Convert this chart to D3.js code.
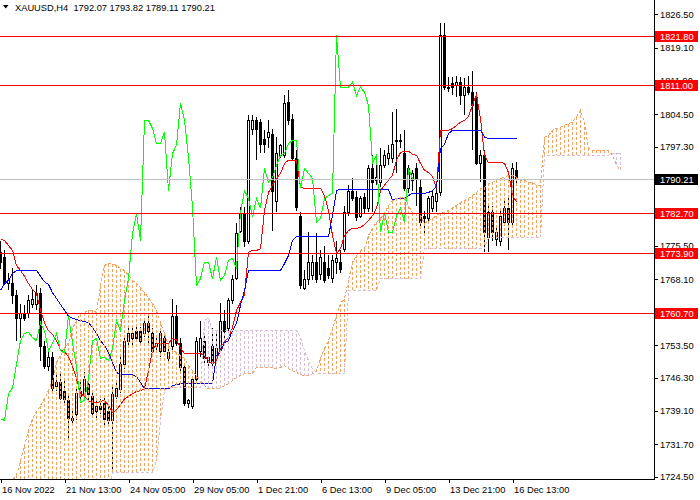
<!DOCTYPE html>
<html>
<head>
<meta charset="utf-8">
<script src="https://cdn.jsdelivr.net/npm/d3@7"></script>
<style>
  body { margin: 0; background: #fff; }
  svg { display: block; font-family: "Liberation Sans", Arial, sans-serif; }
</style>
</head>
<body>
<svg id="chart" width="700" height="500"></svg>
<script>
const symbol = "XAUUSD,H4";

// H4 candles, left to right (last one is the live bar)
const opens = [
  1774.0, 1772.9, 1767.3, 1767.3, 1764.5, 1759.6, 1760.7, 1760.5, 1762.7, 1762.7,
  1765.1, 1753.4, 1749.0, 1750.8, 1744.6, 1745.3, 1743.5, 1741.4, 1736.9, 1738.4,
  1742.4, 1742.8, 1745.0, 1742.4, 1739.1, 1740.2, 1740.8, 1739.1, 1737.1, 1742.4,
  1743.9, 1749.4, 1754.5, 1755.0, 1756.7, 1756.7, 1756.1, 1758.5, 1756.1, 1753.4,
  1752.3, 1755.0, 1750.6, 1753.4, 1760.0, 1754.1, 1748.6, 1740.8, 1740.2, 1746.1,
  1752.3, 1754.5, 1749.7, 1753.4, 1750.6, 1753.0, 1758.9, 1757.2, 1763.4, 1768.4,
  1778.8, 1782.6, 1776.6, 1801.3, 1803.1, 1802.7, 1799.1, 1799.4, 1800.2, 1785.4,
  1795.4, 1795.4, 1807.1, 1803.5, 1794.9, 1782.1, 1766.2, 1768.2, 1768.9, 1771.8,
  1769.3, 1771.8, 1770.6, 1768.4, 1771.8, 1771.8, 1774.8, 1782.8, 1787.6, 1786.1,
  1782.1, 1786.1, 1783.7, 1792.5, 1789.9, 1789.4, 1793.2, 1794.7, 1794.7, 1798.5,
  1798.5, 1796.0, 1788.1, 1789.9, 1792.5, 1788.3, 1782.1, 1781.5, 1783.7, 1785.4,
  1787.2, 1821.9, 1810.2, 1811.3, 1810.8, 1811.5, 1808.6, 1810.4, 1809.3, 1808.2,
  1793.8, 1795.4, 1777.3, 1782.8, 1777.0, 1776.6, 1780.6, 1783.7, 1780.6, 1792.07
];
const highs = [
  1776.6, 1774.4, 1769.5, 1770.6, 1765.6, 1762.7, 1762.3, 1764.5, 1765.6, 1766.7,
  1766.2, 1754.5, 1752.3, 1751.9, 1747.5, 1747.2, 1745.7, 1742.8, 1739.1, 1744.6,
  1745.7, 1747.5, 1746.1, 1743.5, 1741.4, 1741.7, 1742.4, 1740.6, 1744.6, 1745.7,
  1751.2, 1755.6, 1757.4, 1757.4, 1757.8, 1757.6, 1758.9, 1760.0, 1757.2, 1755.0,
  1757.4, 1756.1, 1753.4, 1763.8, 1762.3, 1755.0, 1749.0, 1741.7, 1746.8, 1755.4,
  1758.9, 1755.6, 1751.2, 1757.2, 1756.7, 1762.9, 1761.2, 1764.0, 1768.9, 1780.4,
  1783.9, 1783.9, 1804.2, 1804.2, 1803.8, 1803.5, 1800.9, 1803.1, 1801.3, 1799.4,
  1798.0, 1808.6, 1809.7, 1804.6, 1796.5, 1782.8, 1770.0, 1778.4, 1773.3, 1778.2,
  1774.4, 1775.5, 1773.3, 1773.3, 1776.6, 1774.4, 1784.3, 1788.8, 1790.3, 1787.6,
  1786.5, 1787.0, 1793.2, 1795.4, 1793.2, 1796.9, 1796.5, 1797.6, 1804.9, 1805.7,
  1800.2, 1800.9, 1793.2, 1792.1, 1793.6, 1789.9, 1783.2, 1786.5, 1787.6, 1788.8,
  1824.5, 1824.5, 1812.6, 1812.6, 1813.0, 1812.6, 1812.4, 1813.0, 1814.1, 1809.3,
  1796.5, 1796.5, 1784.3, 1784.3, 1779.9, 1783.2, 1785.4, 1786.5, 1793.8, 1793.82
];
const lows = [
  1770.4, 1766.7, 1765.6, 1762.7, 1754.5, 1755.2, 1758.9, 1759.6, 1761.8, 1761.2,
  1750.1, 1748.3, 1747.9, 1743.5, 1743.5, 1741.4, 1740.8, 1732.4, 1735.8, 1736.9,
  1741.7, 1742.2, 1741.4, 1737.7, 1736.9, 1738.4, 1735.8, 1735.8, 1725.6, 1741.7,
  1743.0, 1748.3, 1753.4, 1753.4, 1754.5, 1754.1, 1755.4, 1753.4, 1751.7, 1752.3,
  1750.8, 1751.9, 1749.7, 1752.3, 1753.4, 1747.9, 1740.2, 1739.7, 1739.5, 1745.7,
  1750.8, 1749.0, 1748.6, 1749.0, 1749.7, 1752.3, 1754.5, 1756.3, 1762.7, 1767.8,
  1778.2, 1775.1, 1775.9, 1799.8, 1794.3, 1795.8, 1795.8, 1797.1, 1778.8, 1782.8,
  1794.7, 1794.7, 1802.0, 1794.3, 1783.2, 1766.0, 1765.6, 1766.7, 1767.8, 1767.3,
  1767.8, 1767.3, 1768.2, 1767.3, 1769.3, 1769.5, 1774.0, 1782.1, 1785.4, 1781.0,
  1781.5, 1782.6, 1782.8, 1782.8, 1788.8, 1788.5, 1792.5, 1793.2, 1793.8, 1791.6,
  1796.9, 1787.6, 1787.0, 1787.6, 1784.3, 1779.9, 1777.7, 1780.6, 1782.8, 1782.8,
  1786.5, 1809.7, 1809.3, 1808.6, 1808.2, 1806.4, 1804.2, 1808.6, 1796.5, 1793.2,
  1789.4, 1774.0, 1774.0, 1776.6, 1775.5, 1775.5, 1779.9, 1774.4, 1779.9, 1789.11
];
const closes = [
  1771.8, 1767.3, 1768.0, 1764.5, 1759.6, 1760.7, 1759.6, 1763.4, 1763.8, 1765.1,
  1753.4, 1749.0, 1750.8, 1744.1, 1745.3, 1741.9, 1741.7, 1737.5, 1737.5, 1743.0,
  1743.5, 1746.1, 1742.8, 1738.6, 1740.0, 1739.5, 1737.3, 1736.9, 1742.8, 1744.1,
  1749.4, 1754.5, 1756.1, 1756.3, 1755.2, 1754.5, 1758.5, 1756.7, 1752.3, 1753.9,
  1756.1, 1752.3, 1751.9, 1760.0, 1754.1, 1748.6, 1740.8, 1741.4, 1746.1, 1754.5,
  1755.0, 1750.6, 1750.8, 1750.1, 1752.8, 1758.9, 1756.7, 1763.4, 1768.2, 1778.2,
  1782.6, 1776.6, 1803.1, 1803.1, 1801.3, 1798.0, 1798.0, 1800.5, 1787.6, 1795.8,
  1797.6, 1806.9, 1803.1, 1794.9, 1783.9, 1766.7, 1768.2, 1771.8, 1771.8, 1768.2,
  1772.9, 1767.8, 1768.9, 1772.2, 1772.7, 1770.4, 1782.8, 1787.6, 1785.9, 1781.7,
  1785.9, 1783.7, 1792.5, 1789.4, 1790.5, 1793.2, 1795.4, 1795.8, 1798.0, 1798.7,
  1798.7, 1788.1, 1792.5, 1791.4, 1790.3, 1780.6, 1781.5, 1785.9, 1786.5, 1787.0,
  1821.9, 1810.4, 1810.4, 1810.4, 1811.5, 1808.6, 1810.4, 1809.3, 1806.4, 1793.8,
  1795.4, 1778.4, 1782.8, 1778.4, 1778.4, 1782.1, 1783.7, 1780.6, 1792.5, 1790.21
];

// Ichimoku lines
const tenkan = [
  1777.0, 1776.6, 1775.5, 1774.4, 1771.1, 1770.0, 1768.7, 1767.1, 1765.8, 1764.9,
  1761.2, 1758.5, 1756.7, 1755.9, 1754.5, 1752.5, 1752.1, 1751.0, 1748.8, 1746.1,
  1742.8, 1742.2, 1741.3, 1740.8, 1740.8, 1741.1, 1741.3, 1740.2, 1738.6, 1739.3,
  1740.4, 1741.7, 1742.2, 1742.8, 1743.3, 1743.5, 1743.9, 1747.9, 1752.3, 1753.9,
  1753.9, 1753.9, 1753.9, 1755.0, 1754.7, 1752.8, 1751.7, 1751.7, 1751.7, 1751.7,
  1751.7, 1751.2, 1750.1, 1749.4, 1750.1, 1753.0, 1754.3, 1755.2, 1757.4, 1761.2,
  1762.9, 1764.7, 1774.0, 1774.4, 1774.4, 1774.8, 1783.2, 1787.2, 1788.8, 1790.3,
  1791.4, 1793.6, 1794.3, 1794.3, 1794.3, 1788.3, 1788.1, 1788.1, 1788.1, 1788.1,
  1788.1, 1786.5, 1783.2, 1777.7, 1773.7, 1774.8, 1777.7, 1778.8, 1779.3, 1779.3,
  1779.5, 1780.1, 1781.0, 1782.1, 1783.7, 1787.6, 1788.8, 1789.9, 1791.0, 1794.3,
  1796.0, 1796.3, 1796.3, 1795.6, 1795.4, 1793.6, 1792.1, 1791.6, 1790.7, 1788.1,
  1800.9, 1800.9, 1800.9, 1801.3, 1802.0, 1802.7, 1803.1, 1804.0, 1806.4, 1808.8,
  1803.5, 1795.4, 1793.8, 1793.8, 1793.8, 1793.8, 1793.6, 1791.6, 1786.5, 1785.1
];
const kijun = [
  1765.6, 1767.1, 1767.8, 1769.3, 1770.0, 1770.0, 1770.0, 1770.0, 1770.0, 1770.0,
  1768.7, 1767.5, 1766.9, 1765.1, 1763.8, 1762.5, 1761.2, 1759.9, 1759.4, 1759.2,
  1758.9, 1758.7, 1758.5, 1757.4, 1756.1, 1754.5, 1753.4, 1751.9, 1749.7, 1747.5,
  1747.0, 1747.0, 1747.0, 1747.0, 1746.6, 1745.3, 1743.9, 1743.9, 1743.9, 1743.9,
  1743.9, 1743.9, 1743.9, 1744.6, 1744.8, 1745.0, 1745.0, 1745.0, 1745.0, 1745.0,
  1745.0, 1745.0, 1745.0, 1745.0, 1751.2, 1751.9, 1754.1, 1754.5, 1756.7, 1758.3,
  1762.3, 1765.6, 1770.0, 1770.0, 1770.0, 1770.0, 1770.0, 1770.0, 1770.0, 1770.0,
  1770.0, 1771.5, 1773.3, 1776.6, 1777.5, 1777.5, 1777.5, 1777.5, 1777.5, 1777.5,
  1777.5, 1777.5, 1777.5, 1782.1, 1787.6, 1787.9, 1787.9, 1787.9, 1787.9, 1787.9,
  1787.9, 1787.9, 1787.9, 1787.9, 1787.9, 1787.9, 1787.9, 1787.9, 1785.4, 1785.9,
  1785.9, 1785.9, 1786.5, 1787.0, 1787.0, 1787.0, 1787.0, 1787.2, 1787.6, 1788.5,
  1796.9, 1797.8, 1800.2, 1800.9, 1800.9, 1800.9, 1800.9, 1800.9, 1800.9, 1800.9,
  1800.9, 1799.4, 1799.1, 1799.1, 1799.1, 1799.1, 1799.1, 1799.1, 1799.1, 1799.1
];
// cloud runs 26 bars past the last candle
const spanA = [
  1719.2, 1720.3, 1721.8, 1723.6, 1724.9, 1728.0, 1731.3, 1734.7, 1737.3, 1738.9,
  1740.2, 1741.7, 1743.5, 1745.7, 1749.7, 1751.2, 1752.8, 1754.1, 1757.2, 1758.9,
  1760.5, 1760.7, 1761.2, 1761.2, 1760.7, 1766.7, 1771.1, 1771.5, 1771.5, 1771.1,
  1770.4, 1770.0, 1768.9, 1767.8, 1767.1, 1766.2, 1765.1, 1764.0, 1762.7, 1761.2,
  1758.5, 1756.1, 1753.4, 1752.3, 1751.9, 1751.2, 1750.6, 1749.0, 1747.9, 1746.8,
  1745.7, 1744.6, 1743.9, 1743.9, 1743.9, 1744.1, 1744.6, 1745.0, 1745.7, 1746.4,
  1746.8, 1747.2, 1747.2, 1747.2, 1748.6, 1748.6, 1748.6, 1748.6, 1748.6, 1748.3,
  1748.6, 1749.0, 1748.3, 1747.9, 1747.5, 1747.0, 1746.8, 1746.8, 1747.2, 1747.9,
  1750.6, 1752.8, 1754.5, 1757.2, 1760.0, 1762.7, 1763.8, 1767.8, 1771.8, 1773.3,
  1774.4, 1774.8, 1777.7, 1779.3, 1780.6, 1781.5, 1782.6, 1784.3, 1785.4, 1785.9,
  1786.1, 1786.1, 1784.3, 1782.6, 1782.6, 1782.1, 1780.4, 1781.0, 1781.5, 1782.1,
  1782.6, 1782.8, 1783.2, 1783.9, 1784.3, 1785.0, 1785.4, 1785.9, 1786.5, 1787.2,
  1788.1, 1788.3, 1789.2, 1789.4, 1789.9, 1790.3, 1790.5, 1791.0, 1791.0, 1790.5,
  1789.9, 1789.9, 1789.4, 1789.4, 1788.8, 1788.8, 1799.4, 1799.8, 1800.9, 1801.3,
  1801.6, 1802.0, 1802.4, 1802.7, 1803.8, 1805.3, 1802.7, 1796.9, 1796.5, 1796.5,
  1796.5, 1796.5, 1796.5, 1795.4, 1793.2, 1792.1
];
const spanB = [
  1721.4, 1721.4, 1721.4, 1721.4, 1721.4, 1721.4, 1721.4, 1721.4, 1721.4, 1721.4,
  1721.4, 1721.4, 1721.4, 1721.4, 1721.4, 1721.4, 1721.4, 1721.4, 1721.4, 1721.4,
  1721.4, 1721.4, 1721.4, 1721.4, 1721.4, 1721.4, 1721.4, 1721.4, 1725.4, 1725.4,
  1725.4, 1725.4, 1725.4, 1725.4, 1725.4, 1725.4, 1725.4, 1725.4, 1725.4, 1728.0,
  1736.9, 1743.5, 1744.1, 1744.1, 1744.1, 1744.1, 1744.1, 1744.1, 1744.1, 1744.1,
  1744.1, 1758.9, 1759.6, 1756.7, 1756.7, 1756.7, 1756.7, 1756.7, 1756.7, 1756.7,
  1756.7, 1756.7, 1756.7, 1756.7, 1756.7, 1756.7, 1756.7, 1756.7, 1756.7, 1756.7,
  1756.7, 1756.7, 1756.7, 1756.7, 1756.7, 1755.2, 1752.3, 1750.1, 1748.3, 1747.5,
  1747.2, 1747.2, 1747.2, 1747.2, 1747.2, 1747.2, 1747.2, 1765.6, 1765.6, 1765.6,
  1765.6, 1765.6, 1765.6, 1765.6, 1765.6, 1768.2, 1768.2, 1768.2, 1768.2, 1768.2,
  1768.2, 1768.2, 1768.2, 1768.2, 1768.2, 1768.2, 1774.8, 1774.8, 1774.8, 1774.8,
  1774.8, 1774.8, 1774.8, 1774.8, 1774.8, 1774.8, 1774.8, 1774.8, 1774.8, 1774.8,
  1774.8, 1774.8, 1777.3, 1777.3, 1777.3, 1777.3, 1777.3, 1777.3, 1777.3, 1777.3,
  1777.3, 1777.3, 1777.3, 1777.3, 1777.3, 1777.3, 1795.4, 1795.4, 1795.4, 1795.4,
  1795.4, 1795.4, 1795.4, 1795.4, 1795.4, 1795.4, 1795.4, 1795.4, 1795.4, 1795.4,
  1795.4, 1795.4, 1795.4, 1795.8, 1795.8, 1795.8
];
const chikouShift = 26;

const levels = [1821.8, 1811.0, 1782.7, 1773.9, 1760.7];
const bid = 1790.21;
const priceTicks = [1826.5, 1819.1, 1811.9, 1804.5, 1797.3, 1790.1, 1782.7, 1775.5,
  1768.1, 1760.9, 1753.5, 1746.3, 1739.1, 1731.7, 1724.5];
const dateBars = [0, 16, 32, 48, 64, 80, 96, 112, 128];
const dateLabels = ["16 Nov 2022", "21 Nov 13:00", "24 Nov 05:00", "29 Nov 05:00",
  "1 Dec 21:00", "6 Dec 13:00", "9 Dec 05:00", "13 Dec 21:00", "16 Dec 13:00"];

const plotR = 654, plotB = 479;
const fontSize = 9.3;
const svg = d3.select("#chart");

// 4 px per bar
const x = d3.scaleLinear().domain([0, 1]).range([0.5, 4.5]);
const y = d3.scaleLinear().domain([1724.5, 1826.5]).range([476.7, 14.3]);

svg.append("defs").append("clipPath").attr("id", "plotclip")
  .append("rect").attr("x", 0).attr("y", 0).attr("width", plotR).attr("height", plotB);

const plot = svg.append("g").attr("clip-path", "url(#plotclip)")
  .attr("shape-rendering", "crispEdges");

// candles
const bars = d3.range(opens.length).map(i => ({
  i, o: opens[i], h: highs[i], l: lows[i], c: closes[i]
}));
const gCandle = plot.append("g");
gCandle.selectAll("line")
  .data(bars)
  .join("line")
  .attr("x1", d => x(d.i)).attr("x2", d => x(d.i))
  .attr("y1", d => y(d.h)).attr("y2", d => y(d.l))
  .attr("stroke", "#000");
gCandle.selectAll("rect")
  .data(bars)
  .join("rect")
  .attr("x", d => x(d.i) - 1)
  .attr("width", 2)
  .attr("y", d => Math.round(y(Math.max(d.o, d.c))) + 0.5)
  .attr("height", d => Math.round(y(Math.min(d.o, d.c))) - Math.round(y(Math.max(d.o, d.c))))
  .attr("fill", d => d.c < d.o ? "#000" : "#fff")
  .attr("stroke", "#000");

const line = d3.line().x((d, i) => x(i)).y(d => y(d));

plot.append("path").attr("d", line(tenkan))
  .attr("fill", "none").attr("stroke", "#ff0000");
plot.append("path").attr("d", line(kijun))
  .attr("fill", "none").attr("stroke", "#0000ff");

// kumo hatch
plot.append("g").selectAll("line")
  .data(d3.range(spanA.length))
  .join("line")
  .attr("x1", i => x(i)).attr("x2", i => x(i))
  .attr("y1", i => y(spanA[i])).attr("y2", i => y(spanB[i]))
  .attr("stroke", i => spanA[i] >= spanB[i] ? "#f4a460" : "#d8bfd8")
  .attr("stroke-dasharray", "3,2");

// chikou: closes drawn 26 bars back
const chikou = closes.slice(chikouShift);
plot.append("path").attr("d", line(chikou))
  .attr("fill", "none").attr("stroke", "#00ff00");

plot.append("path").attr("d", line(spanA))
  .attr("fill", "none").attr("stroke", "#f4a460").attr("stroke-dasharray", "3,2");
plot.append("path").attr("d", line(spanB))
  .attr("fill", "none").attr("stroke", "#d8bfd8").attr("stroke-dasharray", "3,2");

// horizontal levels + bid
plot.selectAll("line.level")
  .data(levels)
  .join("line")
  .attr("class", "level")
  .attr("x1", 0).attr("x2", plotR)
  .attr("y1", d => Math.round(y(d)) + 0.5).attr("y2", d => Math.round(y(d)) + 0.5)
  .attr("stroke", "#ff0000");
plot.append("line")
  .attr("x1", 0).attr("x2", plotR)
  .attr("y1", Math.round(y(bid)) + 0.5).attr("y2", Math.round(y(bid)) + 0.5)
  .attr("stroke", "#c0c0c0");

// axes
const axisR = d3.axisRight(y).tickValues(priceTicks)
  .tickFormat(d3.format(".2f")).tickSize(4).tickSizeOuter(0);
const gR = svg.append("g")
  .attr("transform", `translate(${plotR},0)`)
  .call(axisR)
  .attr("font-size", fontSize)
  .attr("font-family", '"Liberation Sans", Arial, sans-serif')
  .attr("shape-rendering", "crispEdges");
gR.select(".domain").remove();
gR.selectAll("text").attr("x", 6).attr("fill", "#000");

const axisB = d3.axisBottom(x).tickValues(dateBars)
  .tickFormat((d, k) => dateLabels[k]).tickSize(4).tickSizeOuter(0);
const gB = svg.append("g")
  .attr("transform", `translate(0,${plotB})`)
  .call(axisB)
  .attr("font-size", fontSize)
  .attr("font-family", '"Liberation Sans", Arial, sans-serif')
  .attr("shape-rendering", "crispEdges");
gB.select(".domain").remove();
gB.selectAll("text").attr("text-anchor", "start").attr("x", 1).attr("fill", "#000");

svg.append("line")
  .attr("x1", plotR + 0.5).attr("x2", plotR + 0.5).attr("y1", 0).attr("y2", plotB + 1)
  .attr("stroke", "#000").attr("shape-rendering", "crispEdges");
svg.append("line")
  .attr("x1", 0).attr("x2", plotR + 1).attr("y1", plotB + 0.5).attr("y2", plotB + 0.5)
  .attr("stroke", "#000").attr("shape-rendering", "crispEdges");

// price labels on the scale
const tags = levels.map(v => ({ v, bg: "#ff0000" })).concat([{ v: bid, bg: "#000" }]);
const gTag = svg.append("g");
gTag.selectAll("rect")
  .data(tags)
  .join("rect")
  .attr("x", plotR + 1).attr("width", 43)
  .attr("y", d => Math.round(y(d.v)) - 5).attr("height", 11)
  .attr("fill", d => d.bg);
gTag.selectAll("text")
  .data(tags)
  .join("text")
  .attr("x", plotR + 6)
  .attr("y", d => Math.round(y(d.v)) + 0.5)
  .attr("dy", "0.35em")
  .attr("font-size", fontSize)
  .attr("fill", "#fff")
  .text(d => d3.format(".2f")(d.v));

// header
const last = opens.length - 1;
svg.append("path").attr("d", "M3,5L8.5,5L5.75,8.5Z").attr("fill", "#000");
svg.append("text")
  .attr("x", 15).attr("y", 11)
  .attr("font-size", fontSize)
  .style("white-space", "pre")
  .text(`${symbol}  ${opens[last].toFixed(2)} ${highs[last].toFixed(2)} ${lows[last].toFixed(2)} ${closes[last].toFixed(2)}`);
</script>
</body>
</html>
